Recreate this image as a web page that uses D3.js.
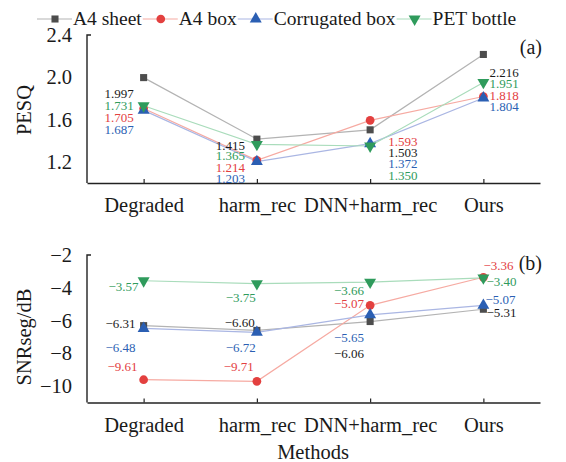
<!DOCTYPE html>
<html>
<head>
<meta charset="utf-8">
<script src="https://cdn.jsdelivr.net/npm/d3@7"></script>
<style>
  body { margin: 0; background: #fff; }
  text { font-family: "Liberation Serif", "Times New Roman", serif; }
</style>
</head>
<body>
<div class="chart"></div>
<script>
const width = 566
const height = 462

const methods = ['Degraded', 'harm_rec', 'DNN+harm_rec', 'Ours']
const seriesNames = ['A4 sheet', 'A4 box', 'Corrugated box', 'PET bottle']

// PESQ values per series
const pesqSheet = [1.997, 1.415, 1.503, 2.216]
const pesqBox = [1.705, 1.214, 1.593, 1.818]
const pesqCorr = [1.687, 1.203, 1.372, 1.804]
const pesqPet = [1.731, 1.365, 1.350, 1.951]

// SNRseg values per series
const snrSheet = [-6.31, -6.60, -6.06, -5.31]
const snrBox = [-9.61, -9.71, -5.07, -3.36]
const snrCorr = [-6.48, -6.72, -5.65, -5.07]
const snrPet = [-3.57, -3.75, -3.66, -3.40]

const pesqTicks = [1.2, 1.6, 2.0, 2.4]
const snrTicks = [-10, -8, -6, -4, -2]

const markerColors = ['#4d4d4d', '#e3403f', '#2b5fb3', '#2f9b5c']
const lineColors = ['#b3b3b3', '#f6aaa2', '#aab6e3', '#a9dcbb']
const textColors = ['#1a1a1a', '#e3403f', '#2b5fb3', '#2f9b5c']
const shapes = [d3.symbolSquare, d3.symbolCircle, d3.symbolTriangle, d3.symbolTriangle]
const rotations = [0, 0, 0, 180]
const symSizes = [50, 60, 62, 62]

// label placement [dx, dy, anchor] per series per method
const pesqLabelPos = [
  [[-10, 16, 'end'], [-12, 6, 'end'], [18, 23, 'start'], [6, 17.5, 'start']],
  [[-10, 8.5, 'end'], [-12, 6.6, 'end'], [18, 20.7, 'start'], [6, -1.5, 'start']],
  [[-10, 18.6, 'end'], [-12, 16.5, 'end'], [18, 20, 'start'], [6, 8, 'start']],
  [[-10, 0, 'end'], [-12, 10.6, 'end'], [18, 29, 'start'], [6, 0.5, 'start']]
]
const snrLabelPos = [
  [[-8, -2, 'end'], [-2, -8, 'end'], [-6, 32, 'end'], [3, 3, 'start']],
  [[-6, -13, 'end'], [-3, -15, 'end'], [-6, -2, 'end'], [0, -12, 'start']],
  [[-8, 19, 'end'], [-1, 15, 'end'], [-6, 22.5, 'end'], [2, -6, 'start']],
  [[-5, 6, 'end'], [-1, 14, 'end'], [-6, 8, 'end'], [3, 4, 'start']]
]

const svg = d3.select('.chart').append('svg')
  .attr('width', width)
  .attr('height', height)
  .style('background', '#fff')

const x = d3.scalePoint()
  .domain(methods)
  .range([87, 540])
  .padding(0.5)

function drawPanel(opts) {
  const y = d3.scaleLinear().domain(opts.domain).range(opts.range)
  const g = svg.append('g')

  const yAxis = g.append('g')
    .attr('transform', 'translate(87,0)')
    .call(d3.axisLeft(y).tickValues(opts.ticks).tickFormat(opts.fmt)
      .tickSizeInner(0).tickSizeOuter(-4).tickPadding(15))
  const xAxis = g.append('g')
    .attr('transform', `translate(0,${opts.range[0]})`)
    .call(d3.axisBottom(x).tickSizeInner(-4).tickSizeOuter(0).tickPadding(14))

  ;[yAxis, xAxis].forEach(a => {
    a.attr('font-family', null)
    a.select('.domain').attr('stroke', '#222').attr('stroke-width', 1.4)
    a.selectAll('.tick line').attr('stroke', '#222').attr('stroke-width', 1.2)
    a.selectAll('text').attr('font-size', 20.5).attr('fill', '#1a1a1a')
  })
  xAxis.selectAll('text').attr('dy', '0.75em')
  yAxis.select('.domain').attr('d', `M-0,${opts.range[0]}V${opts.range[1]}H4`)

  g.append('text')
    .attr('transform', `translate(31,${opts.titleY}) rotate(-90)`)
    .attr('text-anchor', 'middle')
    .attr('font-size', 20.5)
    .attr('fill', '#1a1a1a')
    .text(opts.title)

  g.append('text')
    .attr('x', 542).attr('y', opts.tagY)
    .attr('text-anchor', 'end')
    .attr('font-size', 20)
    .attr('fill', '#1a1a1a')
    .text(opts.tag)

  const line = d3.line()
    .x((d, i) => x(methods[i]))
    .y(d => y(d))

  opts.series.forEach((vals, s) => {
    g.append('path')
      .datum(vals)
      .attr('d', line)
      .attr('fill', 'none')
      .attr('stroke', lineColors[s])
      .attr('stroke-width', 1.2)
  })
  opts.series.forEach((vals, s) => {
    g.append('g').selectAll('path')
      .data(vals)
      .join('path')
      .attr('d', d3.symbol().type(shapes[s]).size(symSizes[s]))
      .attr('transform', (d, i) => `translate(${x(methods[i])},${y(d)}) rotate(${rotations[s]})`)
      .attr('fill', markerColors[s])
  })
  opts.series.forEach((vals, s) => {
    g.append('g').selectAll('text')
      .data(vals)
      .join('text')
      .attr('x', (d, i) => x(methods[i]) + opts.labelPos[s][i][0])
      .attr('y', (d, i) => y(d) + opts.labelPos[s][i][1])
      .attr('dy', '0.35em')
      .attr('text-anchor', (d, i) => opts.labelPos[s][i][2])
      .attr('font-size', 13)
      .attr('fill', textColors[s])
      .text(d => opts.labelFmt(d))
  })
}

drawPanel({
  domain: [1.0, 2.4], range: [183, 35], ticks: pesqTicks,
  fmt: d3.format('.1f'), title: 'PESQ', titleY: 110, tag: '(a)', tagY: 54,
  series: [pesqSheet, pesqBox, pesqCorr, pesqPet],
  labelPos: pesqLabelPos, labelFmt: d3.format('.3f')
})

drawPanel({
  domain: [-11, -2], range: [402.5, 255], ticks: snrTicks,
  fmt: d3.format('d'), title: 'SNRseg/dB', titleY: 337, tag: '(b)', tagY: 270,
  series: [snrSheet, snrBox, snrCorr, snrPet],
  labelPos: snrLabelPos, labelFmt: d3.format('.2f')
})

svg.append('text')
  .attr('x', 313).attr('y', 459)
  .attr('text-anchor', 'middle')
  .attr('font-size', 20.5)
  .attr('fill', '#1a1a1a')
  .text('Methods')

// LEGEND
const legend = svg.append('g')
let lx = 37
seriesNames.forEach((name, s) => {
  legend.append('line')
    .attr('x1', lx).attr('x2', lx + 35)
    .attr('y1', 19).attr('y2', 19)
    .attr('stroke', lineColors[s]).attr('stroke-width', 1.2)
  legend.append('path')
    .attr('d', d3.symbol().type(shapes[s]).size(symSizes[s]))
    .attr('transform', `translate(${lx + 18},19) rotate(${rotations[s]})`)
    .attr('fill', markerColors[s])
  const t = legend.append('text')
    .attr('x', lx + 36).attr('y', 19)
    .attr('dy', '0.33em')
    .attr('font-size', 19.5)
    .attr('fill', '#1a1a1a')
    .text(name)
  lx = lx + 36 + t.node().getComputedTextLength() + 1
})
</script>
</body>
</html>
